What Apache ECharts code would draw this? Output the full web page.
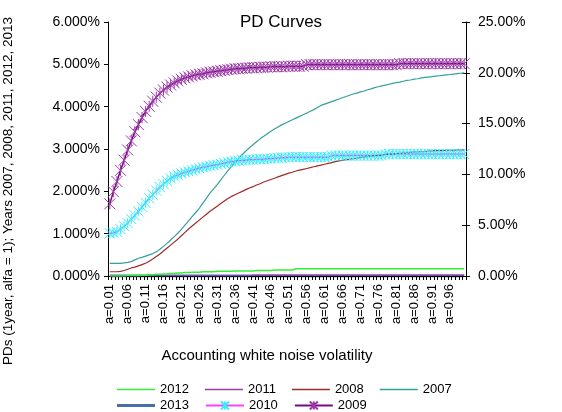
<!DOCTYPE html>
<html><head><meta charset="utf-8">
<script src="https://cdn.jsdelivr.net/npm/echarts/dist/echarts.min.js"></script>
<style>html,body{margin:0;padding:0;background:#fff}#c{width:562px;height:412px}</style>
</head><body><div id="c"></div>
<script>
// categories a=0.01 ... a=1.00
const categories = Array.from({length:100},(_,i)=>'a='+((i+1)/100).toFixed(2));
const leftMin = 0, leftMax = 6, leftStep = 1;     // % (left axis)
const rightMin = 0, rightMax = 25, rightStep = 5; // % (right axis)

// left axis series (%)
const s2007 = [0.30,0.30,0.30,0.30,0.31,0.32,0.34,0.38,0.42,0.44,
0.47,0.50,0.53,0.57,0.63,0.70,0.77,0.85,0.93,1.01,
1.10,1.20,1.30,1.40,1.50,1.60,1.72,1.84,1.96,2.06,
2.16,2.27,2.38,2.49,2.59,2.69,2.78,2.87,2.95,3.03,
3.10,3.17,3.24,3.30,3.36,3.42,3.47,3.52,3.57,3.61,
3.65,3.69,3.73,3.77,3.81,3.85,3.89,3.93,3.98,4.03,
4.06,4.09,4.12,4.15,4.18,4.21,4.24,4.27,4.30,4.32,
4.35,4.37,4.40,4.42,4.45,4.47,4.49,4.51,4.53,4.55,
4.57,4.58,4.60,4.62,4.63,4.65,4.66,4.68,4.69,4.70,
4.71,4.72,4.73,4.74,4.75,4.76,4.77,4.78,4.79,4.80];
const s2008 = [0.10,0.10,0.10,0.11,0.13,0.16,0.19,0.21,0.24,0.27,
0.30,0.35,0.40,0.46,0.52,0.59,0.66,0.73,0.80,0.87,
0.95,1.03,1.11,1.18,1.25,1.32,1.39,1.46,1.53,1.59,
1.65,1.71,1.77,1.83,1.88,1.92,1.96,2.00,2.04,2.08,
2.11,2.15,2.18,2.22,2.25,2.28,2.31,2.34,2.37,2.40,
2.43,2.45,2.48,2.50,2.52,2.54,2.56,2.58,2.60,2.62,
2.64,2.66,2.68,2.70,2.72,2.73,2.75,2.76,2.77,2.78,
2.80,2.81,2.82,2.83,2.84,2.85,2.86,2.87,2.88,2.88,
2.89,2.90,2.91,2.91,2.92,2.93,2.93,2.94,2.94,2.95,
2.95,2.96,2.96,2.96,2.97,2.97,2.97,2.98,2.98,2.98];
const s2011 = [0,0,0,0,0,0,0,0,0,0,
0,0,0,0,0,0,0,0,0,0,
0,0,0,0,0,0,0,0,0,0,
0,0,0,0,0,0,0,0,0,0,
0.02,0.02,0.02,0.02,0.02,0.02,0.02,0.02,0.02,0.02,
0.02,0.02,0.02,0.02,0.02,0.02,0.02,0.02,0.02,0.02,
0.02,0.02,0.02,0.02,0.02,0.02,0.02,0.02,0.02,0.02,
0.02,0.02,0.02,0.02,0.02,0.02,0.02,0.02,0.02,0.02,
0.02,0.02,0.02,0.02,0.02,0.02,0.02,0.02,0.02,0.02,
0.02,0.02,0.02,0.02,0.02,0.02,0.02,0.02,0.02,0.02];
const s2012 = [0,0,0,0,0,0.01,0.01,0.01,0.01,0.02,
0.02,0.03,0.03,0.04,0.04,0.05,0.05,0.06,0.06,0.07,
0.07,0.08,0.08,0.09,0.09,0.09,0.10,0.10,0.10,0.10,
0.11,0.11,0.11,0.11,0.11,0.12,0.12,0.12,0.12,0.12,
0.12,0.13,0.13,0.13,0.13,0.13,0.14,0.14,0.14,0.14,
0.14,0.14,0.17,0.17,0.17,0.17,0.17,0.17,0.17,0.17,
0.17,0.17,0.17,0.17,0.17,0.17,0.17,0.17,0.17,0.17,
0.17,0.17,0.17,0.17,0.17,0.17,0.17,0.17,0.17,0.17,
0.17,0.17,0.17,0.17,0.17,0.17,0.17,0.17,0.17,0.17,
0.17,0.17,0.17,0.17,0.17,0.17,0.17,0.17,0.17,0.17];
const s2013 = [0,0,0,0,0,0,0,0,0,0,
0,0,0,0,0,0,0,0,0,0,
0,0,0,0,0,0,0,0,0,0,
0,0,0,0,0,0,0,0,0,0,
0,0,0,0,0,0,0,0,0,0,
0,0,0,0,0,0,0,0,0,0,
0,0,0,0,0,0,0,0,0,0,
0,0,0,0,0,0,0,0,0,0,
0,0,0,0,0,0,0,0,0,0,
0,0,0,0,0,0,0,0,0,0];
// right axis series (%)
const s2009 = [7.1,8.3,9.3,10.4,11.4,12.4,13.3,14.2,14.9,15.6,
16.2,16.7,17.2,17.6,18.0,18.3,18.6,18.8,19.0,19.2,
19.35,19.5,19.6,19.7,19.8,19.85,19.9,20.0,20.05,20.1,
20.15,20.2,20.25,20.3,20.35,20.4,20.4,20.45,20.45,20.5,
20.5,20.5,20.55,20.55,20.55,20.6,20.6,20.6,20.6,20.6,
20.65,20.65,20.65,20.65,20.65,20.8,20.8,20.8,20.8,20.8,
20.8,20.8,20.8,20.8,20.8,20.8,20.8,20.8,20.8,20.8,
20.8,20.8,20.8,20.8,20.8,20.8,20.8,20.8,20.8,20.8,
20.8,20.9,20.9,20.9,20.9,20.9,20.9,20.9,20.9,20.9,
20.9,20.9,20.9,20.9,20.9,20.9,20.9,20.9,20.9,20.9];
const s2010 = [4.2,4.25,4.35,4.6,4.9,5.2,5.6,5.95,6.35,6.8,
7.2,7.65,8.0,8.4,8.75,9.05,9.35,9.6,9.8,9.95,
10.1,10.2,10.3,10.4,10.5,10.6,10.7,10.75,10.85,10.9,
10.95,11.05,11.1,11.2,11.25,11.3,11.35,11.4,11.4,11.45,
11.45,11.5,11.5,11.5,11.55,11.55,11.6,11.6,11.65,11.65,
11.7,11.7,11.7,11.7,11.7,11.7,11.7,11.7,11.7,11.7,
11.7,11.7,11.85,11.85,11.85,11.85,11.85,11.85,11.85,11.85,
11.85,11.85,11.85,11.85,11.85,11.85,11.85,12.0,12.0,12.0,
12.0,12.0,12.0,12.0,12.0,12.0,12.0,12.0,12.0,12.0,
12.0,12.0,12.0,12.0,12.0,12.0,12.0,12.0,12.0,12.0];

const FONT = '"Liberation Sans", Arial, sans-serif';
const STAR = 'path://M0,0L10,10M10,0L0,10M5,0L5,10';
const THIN = 'path://M0,0L38,0L38,1.3L0,1.3Z';
const THICK = 'path://M0,0L38,0L38,3L0,3Z';

function plain(name, data, color, width, z, axis) {
  return {name, type:'line', data, yAxisIndex: axis, z,
    symbol:'none', showSymbol:false, animation:false,
    itemStyle:{color}, lineStyle:{color, width}};
}
function starred(name, data, lineColor, markColor, size, z) {
  return {name, type:'line', data, yAxisIndex:1, z,
    symbol: STAR, symbolSize: size, showSymbol:true, showAllSymbol:true, animation:false,
    itemStyle:{color:'rgba(0,0,0,0)', borderColor: markColor, borderWidth:1},
    lineStyle:{color: lineColor, width:1.5}};
}

const legendText = {fontSize:13, color:'#000', fontFamily: FONT};
const chart = echarts.init(document.getElementById('c'), null, {renderer:'canvas'});
chart.setOption({
  animation:false,
  backgroundColor:'#fff',
  textStyle:{fontFamily: FONT},
  title:{text:'PD Curves', left:'center', top:9,
    textStyle:{fontSize:17, fontWeight:'normal', color:'#000', fontFamily: FONT}},
  grid:{left:108, right:96, top:22, bottom:136},
  legend:[
    {data:[{name:'2012',icon:THIN},{name:'2011',icon:THIN},{name:'2008',icon:THIN},{name:'2007',icon:THIN}],
     left:112, top:378, itemWidth:38, itemHeight:10, itemGap:16, textStyle:legendText},
    {data:[{name:'2013',icon:THICK},'2010','2009'],
     left:112, top:394, itemWidth:38, itemHeight:10, itemGap:16, textStyle:legendText}
  ],
  xAxis:{type:'category', data:categories, boundaryGap:true, z:2,
    axisLine:{lineStyle:{color:'#000', width:1}},
    axisTick:{show:true, interval:0, length:4, lineStyle:{color:'#000'}},
    axisLabel:{interval:4, rotate:90, margin:8, fontSize:13, color:'#000', fontFamily: FONT},
    splitLine:{show:false},
    name:'Accounting white noise volatility', nameLocation:'middle', nameGap:72,
    nameTextStyle:{fontSize:15, color:'#000', fontFamily: FONT, padding:[0,40,0,0]}
  },
  yAxis:[
    {type:'value', position:'left', min:leftMin, max:leftMax, interval:leftStep,
     axisLine:{show:true, lineStyle:{color:'#000'}},
     axisTick:{show:true, length:4, lineStyle:{color:'#000'}},
     axisLabel:{margin:8, fontSize:14, color:'#000', fontFamily: FONT, formatter:v=>v.toFixed(3)+'%'},
     splitLine:{show:false}},
    {type:'value', position:'right', min:rightMin, max:rightMax, interval:rightStep,
     axisLine:{show:true, lineStyle:{color:'#000'}},
     axisTick:{show:true, length:4, lineStyle:{color:'#000'}},
     axisLabel:{margin:12, fontSize:14, color:'#000', fontFamily: FONT, formatter:v=>v.toFixed(2)+'%'},
     splitLine:{show:false}},
    {type:'value', position:'right', min:rightMin, max:rightMax, interval:rightStep,
     axisLine:{show:false}, axisLabel:{show:false}, splitLine:{show:false},
     axisTick:{show:true, inside:true, length:4, lineStyle:{color:'#000'}}}
  ],
  graphic:[{type:'text', x:8, y:191, rotation:Math.PI/2, z:10,
    style:{text:'PDs (1year, alfa = 1); Years 2007, 2008, 2011, 2012, 2013',
      fontSize:13.5, fontFamily: FONT, fill:'#000', align:'center', verticalAlign:'middle'}}],
  series:[
    plain('2013', s2013, '#4a6ea8', 3, 1, 0),
    plain('2011', s2011, '#9b3aa8', 1.2, 3, 0),
    plain('2012', s2012, '#33ee33', 1.5, 3, 0),
    starred('2010', s2010, '#ff40ff', '#33f0ff', 10, 3),
    starred('2009', s2009, '#7a0a84', '#9c3aa8', 11, 3),
    plain('2008', s2008, '#a02a2a', 1.2, 3, 0),
    plain('2007', s2007, '#35a0a0', 1.2, 3, 0)
  ]
});
</script></body></html>
